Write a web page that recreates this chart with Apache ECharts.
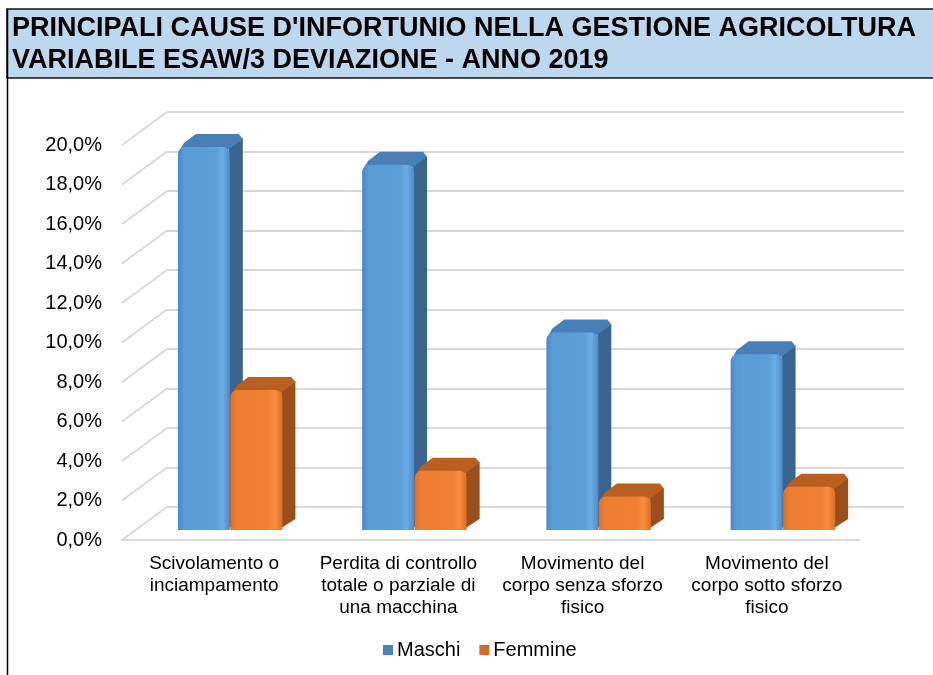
<!DOCTYPE html>
<html>
<head>
<meta charset="utf-8">
<style>
html,body{margin:0;padding:0;background:#fff;}
#chart{width:933px;height:675px;}
</style>
<script src="https://cdn.jsdelivr.net/npm/echarts@6/dist/echarts.min.js"></script>
</head>
<body>
<div id="chart"></div>
<script>
// ---- data ----
const titleLines = ["PRINCIPALI CAUSE D'INFORTUNIO NELLA GESTIONE AGRICOLTURA", "VARIABILE ESAW/3 DEVIAZIONE - ANNO 2019"];
const categories = [
  'Scivolamento o\ninciampamento',
  'Perdita di controllo\ntotale o parziale di\nuna macchina',
  'Movimento del\ncorpo senza sforzo\nfisico',
  'Movimento del\ncorpo sotto sforzo\nfisico'
];
const seriesNames = ['Maschi', 'Femmine'];
const maschi = [19.4, 18.5, 10.0, 8.9];
const femmine = [7.1, 3.0, 1.7, 2.2];
const yTicks = [0, 2, 4, 6, 8, 10, 12, 14, 16, 18, 20];

// ---- layout ----
const FONT = "'Liberation Sans', Arial, sans-serif";
const FRONT = {left: 122, right: 74, top: 145, bottom: 135};
const DX = 45, DY = 33;           // depth of the floor/wall
const PLANE = 0.3;                // bar front plane depth fraction
const BDX = 13, BDY = 13;         // bar depth
const GRID_COLOR = '#d9d9d9';

const chart = echarts.init(document.getElementById('chart'), null, {renderer: 'canvas'});

function fmt(v) { return v.toFixed(1).replace('.', ',') + '%'; }

const palettes = [
  {front: [['#4c88c6', 0], ['#5b9bd5', 0.12], ['#5d9dd8', 0.72], ['#6aade6', 0.86], ['#4f8ac6', 1]], top: '#4a7eb6', side: '#3a6590'},
  {front: [['#dc6f27', 0], ['#ed7d31', 0.12], ['#ef7f33', 0.72], ['#fa8d3d', 0.86], ['#d87029', 1]], top: '#b95f22', side: '#9b4f1c'}
];

function barRender(offsetFrac, pal) {
  return function (params, api) {
    const i = api.value(0), v = api.value(1);
    const top = api.coord([i, v]);
    const base = api.coord([i, 0]);
    const band = api.size([1, 0])[0];
    const w = band * 0.282;
    const x0 = top[0] + offsetFrac * band, x1 = x0 + w;
    const yT = top[1], yB = base[1];
    return {
      type: 'group',
      children: [
        {type: 'polygon', shape: {points: [[x1 - 1, yT], [x1 + BDX, yT - BDY + 4], [x1 + BDX, yB - BDY + 2], [x1 - 4, yB]]},
         style: {fill: pal.side}},
        {type: 'polygon', shape: {points: [[x0 + 2, yT + 3], [x0 + 6, yT - 4], [x0 + BDX + 5, yT - BDY], [x1 + BDX - 4, yT - BDY], [x1 + BDX, yT - BDY + 5], [x1 - 2, yT + 3]]},
         style: {fill: pal.top}},
        {type: 'rect', shape: {x: x0, y: yT, width: w, height: yB - yT, r: [7, 7, 0, 0]},
         style: {fill: new echarts.graphic.LinearGradient(0, 0, 1, 0, pal.front.map(s => ({offset: s[1], color: s[0]})))}}
      ]
    };
  };
}

const option = {
  backgroundColor: '#fff',
  animation: false,
  title: {
    text: titleLines.join('\n'),
    left: 12, top: 13, padding: 0, z: 10,
    textStyle: {fontFamily: FONT, fontSize: 27, fontWeight: 'bold', color: '#000', lineHeight: 31.5}
  },
  graphic: [
    {type: 'rect', z: 0, shape: {x: 7, y: 9, width: 930, height: 69}, style: {fill: '#BDD7EE', stroke: '#111', lineWidth: 1.5}},
    {type: 'line', z: 1, shape: {x1: 7.5, y1: 9, x2: 7.5, y2: 675}, style: {stroke: '#000', lineWidth: 1.5}}
  ],
  legend: {
    data: [
      {name: seriesNames[0], itemStyle: {color: '#4a80bb'}},
      {name: seriesNames[1], itemStyle: {color: '#d36b26'}}
    ],
    left: 383, top: 640, padding: 0, icon: 'rect', itemWidth: 10, itemHeight: 10, itemGap: 19,
    textStyle: {fontFamily: FONT, fontSize: 20, color: '#000', padding: [0, 0, 0, -1]}
  },
  grid: [
    {left: FRONT.left, right: FRONT.right, top: FRONT.top, bottom: FRONT.bottom},
    {left: FRONT.left + DX, right: FRONT.right - DX, top: FRONT.top - DY, bottom: FRONT.bottom + DY},
    {left: FRONT.left + DX * PLANE, right: FRONT.right - DX * PLANE, top: FRONT.top - DY * PLANE, bottom: FRONT.bottom + DY * PLANE}
  ],
  xAxis: [
    {gridIndex: 0, type: 'category', data: categories, boundaryGap: true,
     axisLine: {lineStyle: {color: GRID_COLOR, width: 2}}, axisTick: {show: false},
     axisLabel: {interval: 0, margin: 13, fontFamily: FONT, fontSize: 19, lineHeight: 22, color: '#000', align: 'center'}},
    {gridIndex: 1, type: 'category', data: categories, show: false},
    {gridIndex: 2, type: 'category', data: categories, show: false}
  ],
  yAxis: [
    {gridIndex: 0, type: 'value', min: 0, max: 20, interval: 2,
     axisLine: {show: false}, axisTick: {show: false}, splitLine: {show: false},
     axisLabel: {margin: 20, fontFamily: FONT, fontSize: 20, color: '#000', formatter: fmt}},
    {gridIndex: 1, type: 'value', min: 0, max: 20, interval: 2,
     axisLine: {show: false}, axisTick: {show: false}, axisLabel: {show: false},
     splitLine: {show: true, lineStyle: {color: GRID_COLOR, width: 2}}},
    {gridIndex: 2, type: 'value', min: 0, max: 20, interval: 2, show: false, splitLine: {show: false}}
  ],
  series: [
    {
      type: 'custom', name: 'wall', xAxisIndex: 0, yAxisIndex: 0, silent: true, z: 1,
      data: yTicks.map(v => [0, v]),
      renderItem: function (params, api) {
        const p = api.coord([0, api.value(1)]);
        const x0 = params.coordSys.x;
        return {type: 'line', shape: {x1: x0, y1: p[1], x2: x0 + DX, y2: p[1] - DY},
                style: {stroke: GRID_COLOR, lineWidth: 2}};
      }
    },
    {
      type: 'custom', name: seriesNames[0], xAxisIndex: 2, yAxisIndex: 2, z: 3,
      itemStyle: {color: '#4a80bb'},
      data: maschi.map((v, i) => [i, v]),
      renderItem: barRender(-0.27, palettes[0])
    },
    {
      type: 'custom', name: seriesNames[1], xAxisIndex: 2, yAxisIndex: 2, z: 4,
      itemStyle: {color: '#d36b26'},
      data: femmine.map((v, i) => [i, v]),
      renderItem: barRender(0.015, palettes[1])
    }
  ]
};
chart.setOption(option);
</script>
</body>
</html>
